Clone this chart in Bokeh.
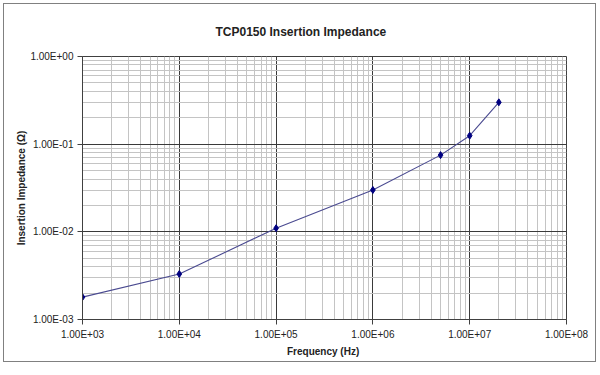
from bokeh.plotting import figure
from bokeh.models import Range1d, FixedTicker, InlineStyleSheet
from bokeh.embed import file_html
from bokeh.resources import INLINE

# ---- data ----
frequency_hz = [1e3, 1e4, 1e5, 1e6, 5e6, 1e7, 2e7]
impedance_ohm = [0.0018, 0.0033, 0.011, 0.030, 0.075, 0.125, 0.30]

x_ticks = [1e3, 1e4, 1e5, 1e6, 1e7, 1e8]
x_tick_labels = ["1.00E+03", "1.00E+04", "1.00E+05", "1.00E+06", "1.00E+07", "1.00E+08"]
y_ticks = [1e-3, 1e-2, 1e-1, 1e0]
y_tick_labels = ["1.00E-03", "1.00E-02", "1.00E-01", "1.00E+00"]

title_text = "TCP0150 Insertion Impedance"
x_label = "Frequency  (Hz)"
y_label = "Insertion Impedance (\u03a9)"

FONT = "Liberation Sans"
TXT = "#222222"

x_minor = [m * t for t in x_ticks[:-1] for m in range(2, 10)]
y_minor = [m * t for t in y_ticks[:-1] for m in range(2, 10)]

p = figure(width=600, height=375, x_axis_type="log", y_axis_type="log",
           x_range=Range1d(1e3, 1e8), y_range=Range1d(1e-3, 1e0),
           output_backend="svg", toolbar_location=None,
           min_border_left=82, min_border_right=34,
           min_border_top=56, min_border_bottom=56)
p.background_fill_color = "white"
p.border_fill_color = "white"
p.outline_line_color = "#404040"
p.outline_line_width = 1

# outer chart border drawn by CSS over the canvas
p.stylesheets = [InlineStyleSheet(css="""
:host { position: relative; }
:host::after {
  content: ""; position: absolute; left: 3px; top: 3px;
  width: 591px; height: 357px; border: 1.5px solid #808080;
  pointer-events: none; z-index: 10;
}
""")]

p.title.text = title_text
p.title.align = "left"
p.title.offset = 133
p.title.vertical_align = "top"
p.title.text_font = FONT
p.title.text_font_size = "12px"
p.title.text_font_style = "bold"
p.title.text_color = TXT
p.title.standoff = 32

p.xaxis.ticker = FixedTicker(ticks=x_ticks, minor_ticks=x_minor)
p.yaxis.ticker = FixedTicker(ticks=y_ticks, minor_ticks=y_minor)
p.xaxis.major_label_overrides = dict(zip(x_ticks, x_tick_labels))
p.yaxis.major_label_overrides = dict(zip(y_ticks, y_tick_labels))

for ax in (p.xaxis, p.yaxis):
    ax.axis_line_color = "#404040"
    ax.major_tick_line_color = "#404040"
    ax.major_tick_out = 5
    ax.major_tick_in = 0
    ax.minor_tick_out = 0
    ax.minor_tick_in = 0
    ax.major_label_text_font = FONT
    ax.major_label_text_font_size = "10px"
    ax.major_label_text_color = TXT
    ax.axis_label_text_font = FONT
    ax.axis_label_text_font_size = "10px"
    ax.axis_label_text_font_style = "bold"
    ax.axis_label_text_color = TXT

p.xaxis.axis_label = x_label
p.yaxis.axis_label = y_label
p.xaxis.major_label_standoff = 4
p.xaxis.axis_label_standoff = 3
p.yaxis.major_label_standoff = 4
p.yaxis.axis_label_standoff = 0

for g in (p.xgrid, p.ygrid):
    g.grid_line_color = "#3a3a3a"
    g.grid_line_width = 1
    g.minor_grid_line_color = "#c4c4c4"
    g.minor_grid_line_width = 1

p.line(frequency_hz, impedance_ohm, line_color="#4a4a90", line_width=1.1)
p.scatter(frequency_hz, impedance_ohm, marker="diamond", size=7,
          fill_color="#000080", line_color="#000080")

open("out.html", "w").write(file_html(p, INLINE))
